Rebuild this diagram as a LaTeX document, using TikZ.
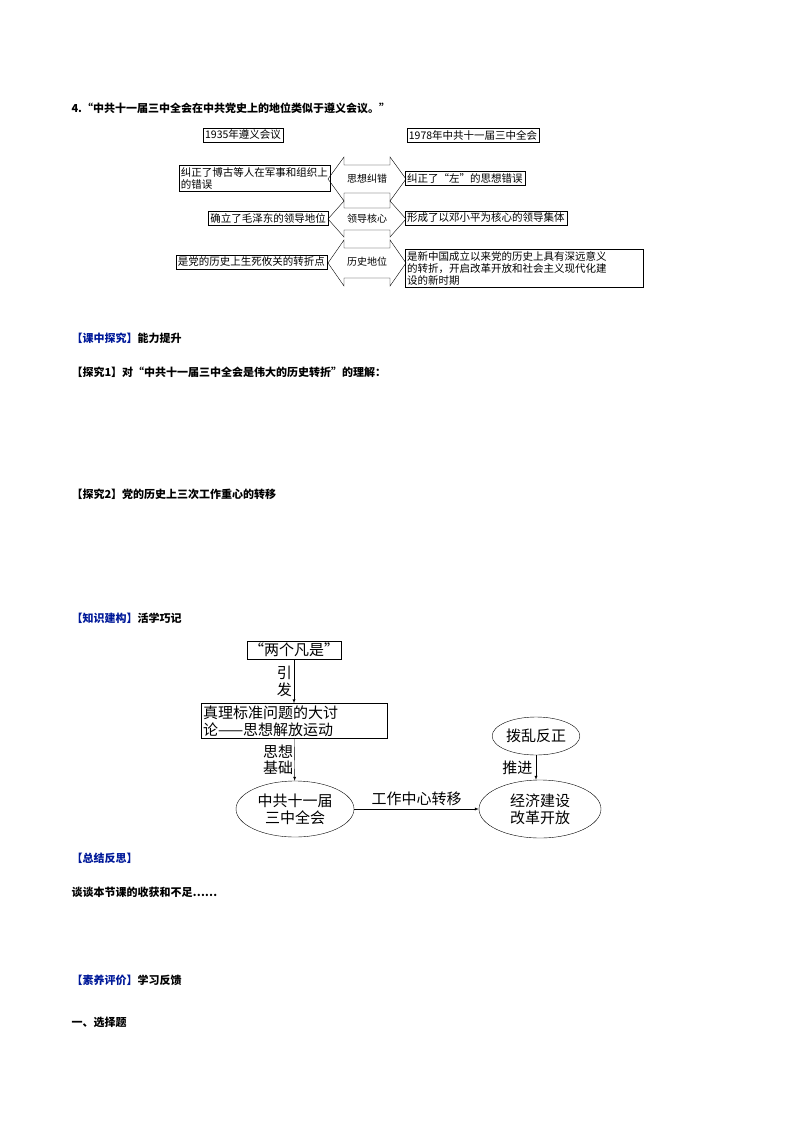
\documentclass[tikz,border=0pt]{standalone}
\usepackage{fontspec}
\setmainfont{Noto Sans CJK SC}
\XeTeXlinebreaklocale "zh"
\XeTeXlinebreakskip=0pt plus 1pt
\usetikzlibrary{shapes}
\usetikzlibrary{arrows}
\usetikzlibrary{positioning}
\definecolor{secblue}{rgb}{0,0.1,0.6}

\tikzset{
  cell/.style={draw, inner sep=2pt, font=\fontsize{10.5}{12}\selectfont, align=left},
  bigbox/.style={draw, inner sep=2pt, font=\fontsize{15}{17}\selectfont, align=left},
  oval/.style={draw, ellipse, inner sep=1pt, font=\fontsize{15}{17}\selectfont, align=center},
  lbl/.style={font=\fontsize{15}{17}\selectfont, align=center},
  txt/.style={anchor=west, font=\fontsize{11}{13}\selectfont\bfseries},
  link/.style={-latex}
}
% double arrow between two rows: left x, right x, top, bottom, body top, body bottom
\newcommand{\twinarrow}[6]{
  \draw (#1, {(#3+#4)/2}) -- (#1+16, #3) -- (#1+16, #5) -- (#2-16, #5) -- (#2-16, #3)
    -- (#2, {(#3+#4)/2}) -- (#2-16, #4) -- (#2-16, #6) -- (#1+16, #6) -- (#1+16, #4) -- cycle;
}

\begin{document}
\begin{tikzpicture}[x=1pt, y=-1pt]
  \useasboundingbox (0, 0) rectangle (794, 1123);

  \node[txt] (q4) at (68, 108) {4.“中共十一届三中全会在中共党史上的地位类似于遵义会议。”};

  \node[cell] (zunyi) at (243, 135) {1935年遵义会议};
  \node[cell] (third) at (473, 135) {1978年中共十一届三中全会};

  \twinarrow{328}{406}{157}{201}{165}{193}
  \twinarrow{328}{406}{201}{237}{208}{230}
  \twinarrow{328}{406}{240}{286}{248}{278}

  \node[cell, anchor=east] (l1) at (330, 178) {纠正了博古等人在军事和组织上\\的错误};
  \node[cell, anchor=east] (l2) at (328, 218) {确立了毛泽东的领导地位};
  \node[cell, anchor=east] (l3) at (327, 262) {是党的历史上生死攸关的转折点};

  \node[font=\fontsize{10}{12}\selectfont] (m1) at (367, 179) {思想纠错};
  \node[font=\fontsize{10}{12}\selectfont] (m2) at (367, 219) {领导核心};
  \node[font=\fontsize{10}{12}\selectfont] (m3) at (367, 262) {历史地位};

  \node[cell, anchor=west] (r1) at (405, 178) {纠正了“左”的思想错误};
  \node[cell, anchor=west] (r2) at (405, 218) {形成了以邓小平为核心的领导集体};
  \node[cell, anchor=west, text width=234pt] (r3) at (405, 268) {是新中国成立以来党的历史上具有深远意义\\的转折，开启改革开放和社会主义现代化建\\设的新时期};

  \node[txt] (s1) at (68, 338) {\textcolor{secblue}{【课中探究】}能力提升};
  \node[txt] (s2) at (68, 372) {【探究1】对“中共十一届三中全会是伟大的历史转折”的理解：};
  \node[txt] (s3) at (68, 494) {【探究2】党的历史上三次工作重心的转移};
  \node[txt] (s4) at (68, 618) {\textcolor{secblue}{【知识建构】}活学巧记};

  \node[bigbox] (fanshi) at (294, 650) {“两个凡是”};
  \node[bigbox, text width=182pt] (taolun) at (294, 721) {真理标准问题的大讨\\论——思想解放运动};
  \node[oval, minimum width=118pt, minimum height=56pt] (plenum) at (295, 809) {中共十一届\\三中全会};
  \node[oval, minimum width=122pt, minimum height=58pt] (econ) at (540, 809) {经济建设\\改革开放};
  \node[oval, minimum width=84pt, minimum height=38pt] (boluan) at (536, 736) {拨乱反正};

  \draw[link] (fanshi) -- node[lbl, left, inner sep=2pt] {引\\发} (taolun);
  \draw[link] (taolun) -- node[lbl, left, inner sep=1pt] {思想\\基础} (plenum);
  \draw[link] (plenum) -- node[lbl, above] {工作中心转移} (econ);
  \draw[link] (boluan) -- node[lbl, left] {推进} (boluan |- econ.north);

  \node[txt] (s5) at (68, 858) {\textcolor{secblue}{【总结反思】}};
  \node[txt] (s6) at (68, 892) {谈谈本节课的收获和不足……};
  \node[txt] (s7) at (68, 980) {\textcolor{secblue}{【素养评价】}学习反馈};
  \node[txt] (s8) at (68, 1022) {一、选择题};
\end{tikzpicture}
\end{document}
